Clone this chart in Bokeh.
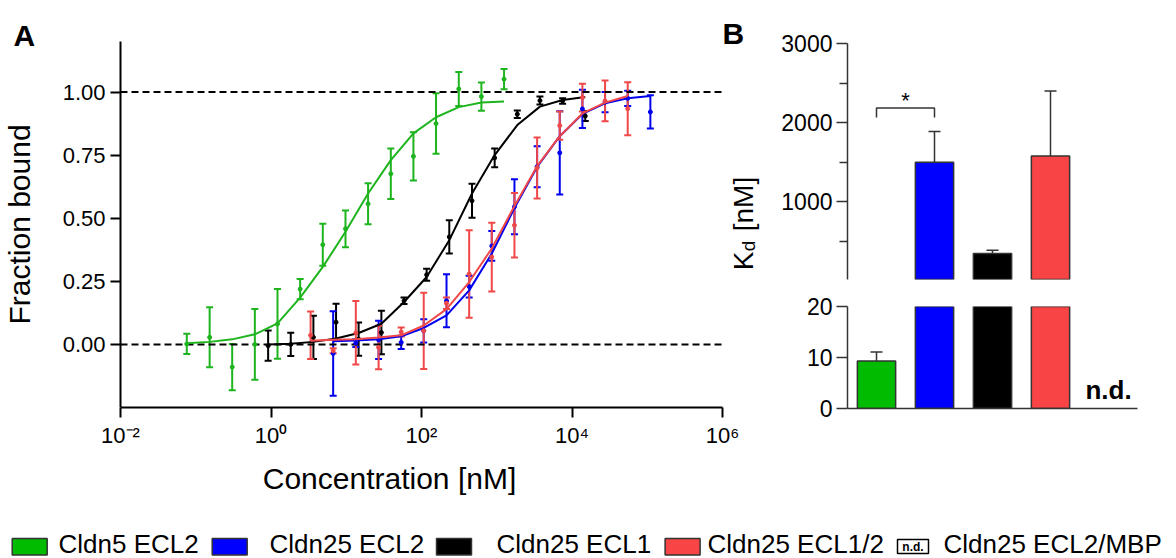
from bokeh.plotting import figure
from bokeh.layouts import row, column
from bokeh.models import (Range1d, FixedTicker, Whisker, TeeHead, ColumnDataSource,
                          CustomJSTickFormatter, PrintfTickFormatter)
from bokeh.embed import file_html
from bokeh.resources import INLINE
from bokeh.core.properties import value

FONT = "Liberation Sans"

# ---------------- Panel A data (concentration in nM, fraction bound) ----------------
green_conc = [0.076, 0.153, 0.305, 0.61, 1.22, 2.44, 4.88, 9.77, 19.5, 39.1, 78.1, 156, 313, 625, 1250]
green_mean = [0.002, 0.028, -0.09, 0.0, 0.081, 0.219, 0.395, 0.458, 0.557, 0.676, 0.745, 0.875, 1.012, 0.982, 1.051]
green_err = [0.04, 0.119, 0.092, 0.14, 0.138, 0.04, 0.083, 0.073, 0.081, 0.10, 0.096, 0.12, 0.067, 0.056, 0.04]
green_fit = [0.005, 0.01, 0.02, 0.04, 0.083, 0.185, 0.307, 0.446, 0.598, 0.73, 0.836, 0.90, 0.94, 0.958, 0.962]

black_conc = [0.916, 1.83, 3.66, 7.32, 14.6, 29.3, 58.6, 117, 234, 469, 938, 1875, 3750, 7500, 15000]
black_mean = [-0.005, 0.0, 0.028, 0.088, 0.021, 0.047, 0.173, 0.276, 0.426, 0.569, 0.739, 0.912, 0.966, 0.964, 0.905]
black_err = [0.06, 0.046, 0.086, 0.073, 0.066, 0.086, 0.013, 0.024, 0.066, 0.067, 0.037, 0.015, 0.016, 0.011, 0.02]
black_fit = [0.0, 0.003, 0.01, 0.023, 0.045, 0.082, 0.168, 0.267, 0.413, 0.598, 0.75, 0.869, 0.942, 0.968, 0.98]

blue_conc = [6.7, 13.4, 26.9, 53.7, 107, 215, 430, 859, 1719, 3438, 6875, 13750, 27500, 55000, 110000]
blue_mean = [-0.036, 0.005, 0.018, 0.008, 0.054, 0.173, 0.229, 0.39, 0.545, 0.704, 0.759, 0.933, 0.96, 0.975, 0.921]
blue_err = [0.167, 0.015, 0.076, 0.026, 0.046, 0.105, 0.043, 0.059, 0.109, 0.081, 0.165, 0.076, 0.04, 0.03, 0.066]
blue_fit = [0.012, 0.015, 0.02, 0.032, 0.065, 0.115, 0.214, 0.36, 0.54, 0.703, 0.825, 0.913, 0.955, 0.975, 0.984]

red_conc = [3.36, 6.71, 13.4, 26.9, 53.7, 107, 215, 430, 859, 1719, 3438, 6875, 13750, 27500, 55000]
red_mean = [0.036, -0.025, 0.046, -0.012, 0.049, 0.054, 0.163, 0.279, 0.346, 0.472, 0.699, 0.867, 0.978, 0.965, 0.934]
red_err = [0.094, 0.01, 0.126, 0.086, 0.018, 0.151, 0.023, 0.173, 0.136, 0.128, 0.121, 0.056, 0.055, 0.081, 0.105]
red_fit = [0.014, 0.018, 0.02, 0.027, 0.036, 0.075, 0.14, 0.247, 0.38, 0.548, 0.706, 0.825, 0.915, 0.958, 0.984]

x_ticks = [1e-2, 1e0, 1e2, 1e4, 1e6]
x_tick_labels = ["10\u207b\u00b2", "10\u2070", "10\u00b2", "10\u2074", "10\u2076"]
y_ticks = [0.0, 0.25, 0.5, 0.75, 1.0]
y_axis_span = [-0.25, 1.2]
ref_levels = [0.0, 1.0]

# ---------------- Panel B data (Kd in nM) ----------------
kd_names = ["Cldn5 ECL2", "Cldn25 ECL2", "Cldn25 ECL1", "Cldn25 ECL1/2", "Cldn25 ECL2/MBP"]
kd_values = [9.3, 1501, 347, 1581]
kd_errors = [1.8, 387, 43, 820]
kd_upper_ticks = [1000, 2000, 3000]
kd_upper_minor = [500, 1500, 2500]
kd_lower_ticks = [0, 10, 20]
sig_pair = [1, 2]
sig_y = [2066, 2184]

line_colors = ["#1EB41E", "#0000EE", "#000000", "#F04848"]
bar_colors = ["#00BB00", "#0000FF", "#000000", "#F84444"]

# ---------------- Panel A (frame covers the whole upper-left area; y axis fixed at 10^-2) ----------------
PX_DEC = 75.25
pA = figure(width=778, height=510, x_axis_type="log",
            x_range=Range1d(10 ** (-2 - 120 / PX_DEC), 10 ** (-2 + 658 / PX_DEC)),
            y_range=Range1d(-0.25, -0.25 + 407 / 252.4),
            output_backend="svg", toolbar_location=None,
            min_border_left=0, min_border_right=0, min_border_top=0, min_border_bottom=103)
pA.xgrid.visible = False
pA.ygrid.visible = False
pA.outline_line_color = None

pA.segment(x0=x_ticks[0], x1=x_ticks[-1], y0=ref_levels, y1=ref_levels,
           line_color="black", line_width=2, line_dash="7 4")


def add_series(p, conc, mean, err, fit, color):
    lo = [m - e for m, e in zip(mean, err)]
    hi = [m + e for m, e in zip(mean, err)]
    src = ColumnDataSource(dict(x=conc, y=mean, lo=lo, hi=hi, fit=fit))
    p.line("x", "fit", source=src, line_color=color, line_width=2)
    p.add_layout(Whisker(base="x", lower="lo", upper="hi", source=src,
                         line_color=color, line_width=2,
                         upper_head=TeeHead(size=7, line_color=color, line_width=2),
                         lower_head=TeeHead(size=7, line_color=color, line_width=2)))
    p.scatter("x", "y", source=src, size=4, color=color)


add_series(pA, green_conc, green_mean, green_err, green_fit, line_colors[0])
add_series(pA, black_conc, black_mean, black_err, black_fit, line_colors[2])
add_series(pA, blue_conc, blue_mean, blue_err, blue_fit, line_colors[1])
add_series(pA, red_conc, red_mean, red_err, red_fit, line_colors[3])

pA.xaxis.ticker = FixedTicker(ticks=x_ticks, minor_ticks=[])
pA.xaxis.bounds = (x_ticks[0], x_ticks[-1])
pA.xaxis.formatter = CustomJSTickFormatter(args=dict(tvals=x_ticks, tlabels=x_tick_labels), code="""
let best = 0, bd = Infinity;
for (let i = 0; i < tvals.length; i++) {
  const d = Math.abs(Math.log10(tvals[i]) - Math.log10(tick));
  if (d < bd) { bd = d; best = i; }
}
return tlabels[best];
""")
pA.yaxis.ticker = FixedTicker(ticks=y_ticks, minor_ticks=[])
pA.yaxis.formatter = PrintfTickFormatter(format="%.2f")
pA.yaxis.fixed_location = x_ticks[0]
pA.yaxis.bounds = tuple(y_axis_span)
pA.xaxis.axis_label = "Concentration [nM]"
pA.yaxis.axis_label = "Fraction bound"
for ax in [pA.xaxis[0], pA.yaxis[0]]:
    ax.axis_line_width = 2
    ax.axis_line_color = "black"
    ax.major_tick_line_width = 2
    ax.major_tick_out = 10
    ax.major_tick_in = 0
    ax.minor_tick_line_color = None
    ax.major_label_text_font = FONT
    ax.major_label_text_font_size = "22px"
    ax.major_label_text_color = "black"
    ax.major_label_standoff = 5
    ax.axis_label_text_font = FONT
    ax.axis_label_text_font_size = "30px"
    ax.axis_label_text_font_style = "normal"
    ax.axis_label_text_color = "black"
pA.yaxis.axis_label_standoff = 24
pA.xaxis.axis_label_standoff = 11


def lx(px):  # page x -> log-axis data value in panel A
    return 10 ** (-2 + (px - 120) / PX_DEC)


def ly(py):  # page y -> data value in panel A
    return (344.1 - py) / 252.4


# panel letters (anchor placed at the middle of the capitals)
pA.text(x=[lx(13), lx(722)], y=[ly(35), ly(33)], text=["A", "B"], text_font=value(FONT),
        text_font_size="30px", text_font_style="bold", text_align="left",
        text_baseline="alphabetic", text_color="black")
# K_d [nM] title of panel B (sits left of panel B's axis)
pA.text(x=[lx(743), lx(743)], y=[ly(270), ly(231)], text=["K", "[nM]"], angle=1.5708,
        text_font=value(FONT), text_font_size="28px", text_align="left",
        text_baseline="alphabetic", text_color="black")
pA.text(x=[lx(748)], y=[ly(251)], text=["d"], angle=1.5708,
        text_font=value(FONT), text_font_size="19px", text_align="left",
        text_baseline="alphabetic", text_color="black")

# ---------------- Panel B ----------------
xr = Range1d(0.5, 5.5)
bar_x = [1, 2, 3, 4]


def style_b(p):
    p.xgrid.visible = False
    p.ygrid.visible = False
    p.outline_line_color = None
    ax = p.yaxis[0]
    ax.axis_line_width = 1.5
    ax.axis_line_color = "#333333"
    ax.major_tick_line_width = 1.5
    ax.major_tick_line_color = "#333333"
    ax.major_tick_out = 11
    ax.major_tick_in = 0
    ax.minor_tick_line_width = 1.5
    ax.minor_tick_line_color = "#333333"
    ax.minor_tick_out = 8
    ax.minor_tick_in = 0
    ax.major_label_text_font = FONT
    ax.major_label_text_font_size = "23px"
    ax.major_label_text_color = "black"
    ax.major_label_standoff = 4


pB1 = figure(width=398, height=292, x_range=xr, y_range=Range1d(20, 3000),
             x_axis_location=None, output_backend="svg", toolbar_location=None,
             min_border_left=69, min_border_right=39, min_border_top=43, min_border_bottom=13)
pB2 = figure(width=398, height=218, x_range=xr, y_range=Range1d(0, 20),
             output_backend="svg", toolbar_location=None,
             min_border_left=69, min_border_right=39, min_border_top=14, min_border_bottom=102)
style_b(pB1)
style_b(pB2)
pB1.yaxis.ticker = FixedTicker(ticks=kd_upper_ticks, minor_ticks=kd_upper_minor)
pB2.yaxis.ticker = FixedTicker(ticks=kd_lower_ticks, minor_ticks=[])
pB2.xaxis.ticker = FixedTicker(ticks=[], minor_ticks=[])
pB2.xaxis.axis_line_width = 1.5
pB2.xaxis.axis_line_color = "#333333"

for p, keep in [(pB1, lambda v: v > 20), (pB2, lambda v: True)]:
    sel = [i for i, v in enumerate(kd_values) if keep(v)]
    p.vbar(x=[bar_x[i] for i in sel], top=[kd_values[i] for i in sel], bottom=0, width=0.66,
           fill_color=[bar_colors[i] for i in sel], line_color="#333333", line_width=1.5)
for p, keep in [(pB1, lambda v: v > 20), (pB2, lambda v: v <= 20)]:
    sel = [i for i, v in enumerate(kd_values) if keep(v)]
    src = ColumnDataSource(dict(x=[bar_x[i] for i in sel],
                                lo=[kd_values[i] for i in sel],
                                hi=[kd_values[i] + kd_errors[i] for i in sel]))
    p.add_layout(Whisker(base="x", lower="lo", upper="hi", source=src,
                         line_color="#333333", line_width=1.5, lower_head=None,
                         upper_head=TeeHead(size=12, line_color="#333333", line_width=1.5)))

# significance bracket
pB1.multi_line(xs=[[sig_pair[0], sig_pair[0], sig_pair[1], sig_pair[1]]],
               ys=[[sig_y[0], sig_y[1], sig_y[1], sig_y[0]]],
               line_color="#333333", line_width=1.5)
pB1.text(x=[sum(sig_pair) / 2], y=[2280], text=["*"], text_font=value(FONT),
         text_font_size="22px", text_align="center", text_baseline="alphabetic", text_color="black")

# n.d. marker for the fifth construct
pB2.text(x=[len(kd_names)], y=[3.6], text=["n.d."], text_font=value(FONT), text_font_size="26px",
         text_font_style="bold", text_align="center", text_baseline="alphabetic", text_color="black")

# ---------------- Legend strip ----------------
leg_swatch_left = [11.7, 211.7, 436, 664.6, 897]
leg_text_x = [58, 269, 496, 707, 943]
pL = figure(width=1176, height=48, x_range=Range1d(0, 1176), y_range=Range1d(0, 48),
            x_axis_location=None, y_axis_location=None, output_backend="svg",
            toolbar_location=None, min_border=0)
pL.xgrid.visible = False
pL.ygrid.visible = False
pL.outline_line_color = None
pL.quad(left=leg_swatch_left[:4], right=[l + 35 for l in leg_swatch_left[:4]],
        bottom=3.5, top=20, fill_color=bar_colors, line_color="#333333", line_width=1.5)
pL.quad(left=leg_swatch_left[4:], right=[l + 31 for l in leg_swatch_left[4:]],
        bottom=5, top=19, fill_color="white", line_color="black", line_width=1.5)
pL.text(x=[l + 15.5 for l in leg_swatch_left[4:]], y=[12], text=["n.d."], text_font=value(FONT),
        text_font_size="12px", text_font_style="bold", text_align="center",
        text_baseline="alphabetic", text_color="black")
pL.text(x=leg_text_x, y=[15] * 5, text=kd_names, text_font=value(FONT), text_font_size="26px",
        text_align="left", text_baseline="alphabetic", text_color="black")

layout = column(row(pA, column(pB1, pB2)), pL)
open("out.html", "w").write(file_html(layout, INLINE))
